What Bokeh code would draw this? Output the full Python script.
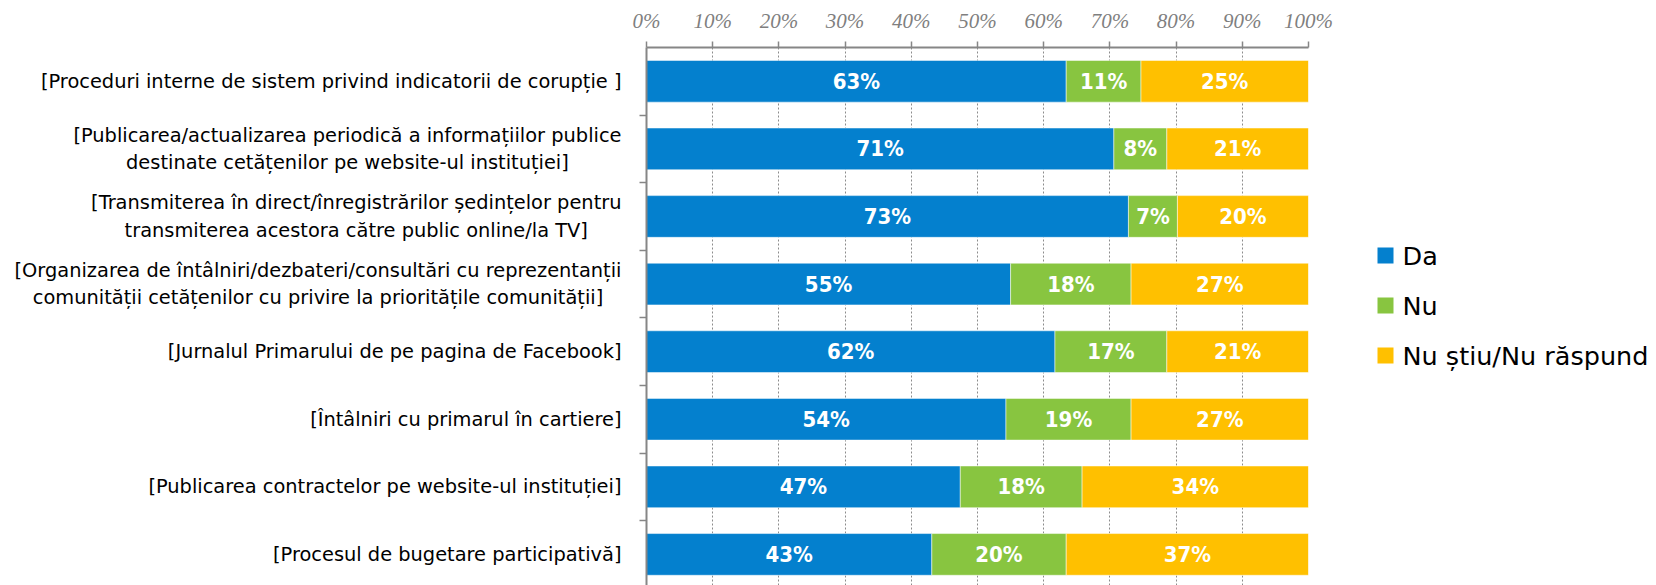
from bokeh.plotting import figure
from bokeh.layouts import row
from bokeh.models import Range1d, FixedTicker, PrintfTickFormatter, ColumnDataSource
from bokeh.core.properties import value
from bokeh.embed import file_html
from bokeh.resources import INLINE

categories = [
    "[Proceduri interne de sistem privind indicatorii de corupție ]",
    "[Publicarea/actualizarea periodică a informațiilor publice\ndestinate cetățenilor pe website-ul instituției]",
    "[Transmiterea în direct/înregistrărilor ședințelor pentru\ntransmiterea acestora către public online/la TV]",
    "[Organizarea de întâlniri/dezbateri/consultări cu reprezentanții\ncomunității cetățenilor cu privire la prioritățile comunității]",
    "[Jurnalul Primarului de pe pagina de Facebook]",
    "[Întâlniri cu primarul în cartiere]",
    "[Publicarea contractelor pe website-ul instituției]",
    "[Procesul de bugetare participativă]",
]
series_names = ["Da", "Nu", "Nu știu/Nu răspund"]
da = [63.4, 70.6, 72.8, 55.0, 61.7, 54.3, 47.4, 43.1]
nu = [11.3, 8.0, 7.4, 18.2, 16.9, 18.9, 18.4, 20.3]
ns = [25.3, 21.4, 19.8, 26.8, 21.4, 26.8, 34.2, 36.6]
x_ticks = [0, 10, 20, 30, 40, 50, 60, 70, 80, 90, 100]

colors = ["#0480CE", "#88C540", "#FFC000"]
LABEL_FONT = "DejaVu Sans"
H = 585
TOP = 47

n = len(categories)
ypos = list(range(n))
yr = Range1d(n - 0.54, -0.5)


def blank(fig):
    fig.outline_line_color = None
    fig.background_fill_color = "white"
    fig.border_fill_color = "white"
    fig.xgrid.grid_line_color = None
    fig.ygrid.grid_line_color = None


# ---- left: category labels ----
W1 = 626
pl = figure(width=W1, height=H, output_backend="svg", toolbar_location=None,
            x_range=Range1d(0, W1), y_range=yr, x_axis_location=None, y_axis_location=None,
            min_border_left=0, min_border_right=0, min_border_top=TOP, min_border_bottom=0)
blank(pl)
pl.text(x=[W1 - 5] * n, y=ypos, text=categories, anchor="center_right", text_align="center",
        text_baseline="middle", text_font=value(LABEL_FONT), text_font_size="19.4px",
        text_color="black", text_line_height=1.2)

# ---- main chart ----
W2 = 707
p = figure(width=W2, height=H, output_backend="svg", toolbar_location=None,
           x_range=Range1d(0, 100), y_range=yr,
           x_axis_location="above", min_border_left=20, min_border_right=25,
           min_border_top=TOP, min_border_bottom=0)
blank(p)

src = ColumnDataSource(dict(y=ypos, Da=da, Nu=nu, NS=ns))
rs = p.hbar_stack(["Da", "Nu", "NS"], y="y", height=0.617, color=colors,
                  line_color="white", line_width=0.5, source=src)

lx, ly, lt = [], [], []
for i in range(n):
    left = 0
    for v in (da[i], nu[i], ns[i]):
        lx.append(left + v / 2)
        ly.append(i)
        lt.append(f"{round(v)}%")
        left += v
p.text(x=lx, y=ly, text=lt, text_color="white", text_font=value("DejaVu Sans Condensed"),
       text_font_size="22px", text_font_style="bold", text_align="center",
       text_baseline="middle")

xa = p.xaxis[0]
xa.ticker = FixedTicker(ticks=x_ticks)
xa.formatter = PrintfTickFormatter(format="%d%%")
xa.axis_line_color = "#868686"
xa.axis_line_width = 2
xa.major_tick_line_color = "#868686"
xa.major_tick_line_width = 1.5
xa.major_tick_out = 6
xa.major_tick_in = 0
xa.minor_tick_line_color = None
xa.major_label_text_font = "Liberation Serif"
xa.major_label_text_font_style = "italic"
xa.major_label_text_font_size = "21px"
xa.major_label_text_color = "#7F7F7F"
xa.major_label_standoff = 9

ya = p.yaxis[0]
ya.ticker = FixedTicker(ticks=[], minor_ticks=[i + 0.5 for i in range(n - 1)])
ya.major_tick_line_color = None
ya.minor_tick_line_color = "#868686"
ya.minor_tick_line_width = 1.5
ya.minor_tick_out = 7
ya.minor_tick_in = 0
ya.axis_line_color = "#868686"
ya.axis_line_width = 2

p.xgrid.ticker = FixedTicker(ticks=x_ticks[1:])
p.xgrid.grid_line_color = "#8C8C8C"
p.xgrid.grid_line_dash = "2 2"
p.xgrid.grid_line_width = 1

# ---- right: legend drawn as glyphs ----
W3 = 1656 - W1 - W2
pr = figure(width=W3, height=H, output_backend="svg", toolbar_location=None,
            x_range=Range1d(0, W3), y_range=Range1d(6.6, -4.16), x_axis_location=None,
            y_axis_location=None, min_border_left=0, min_border_right=0,
            min_border_top=TOP, min_border_bottom=0)
blank(pr)
k = list(range(len(series_names)))
pr.scatter(x=[52] * len(k), y=k, marker="square", size=16, fill_color=colors,
           line_color=None)
pr.text(x=[69] * len(k), y=k, text=series_names, text_font=value(LABEL_FONT),
        text_font_size="25.5px", text_color="black", text_align="left",
        text_baseline="middle")

layout = row(pl, p, pr)
open("out.html", "w").write(file_html(layout, INLINE))
